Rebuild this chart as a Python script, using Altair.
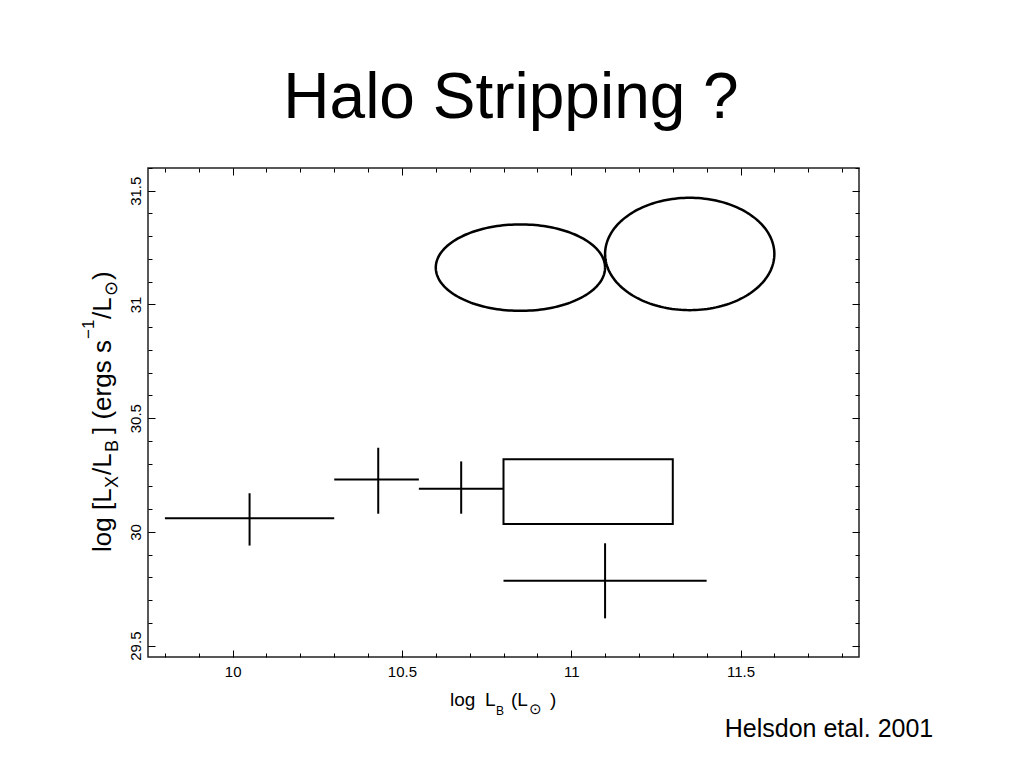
import altair as alt
import numpy as np
import pandas as pd

# ---------------- data ----------------
cross_x = [10.05, 10.43, 10.675, 11.10]
cross_x_lo = [9.80, 10.30, 10.55, 10.80]
cross_x_hi = [10.30, 10.55, 10.80, 11.40]
cross_y = [30.06, 30.23, 30.19, 29.785]
cross_y_lo = [29.94, 30.08, 30.08, 29.62]
cross_y_hi = [30.17, 30.37, 30.31, 29.95]

box_x = [10.80, 11.30]
box_y = [30.035, 30.32]

ell_id = ["A", "B"]
ell_cx = [10.85, 11.35]
ell_cy = [31.162, 31.222]
ell_rx = [0.25, 0.25]
ell_ry = [0.19, 0.247]

x_major = [10, 10.5, 11, 11.5]
x_minor = [9.8, 9.9, 10.0, 10.1, 10.2, 10.3, 10.4, 10.5, 10.6, 10.7, 10.8, 10.9,
           11.0, 11.1, 11.2, 11.3, 11.4, 11.5, 11.6, 11.7, 11.8]
y_major = [29.5, 30, 30.5, 31, 31.5]
y_minor = [29.5, 29.6, 29.7, 29.8, 29.9, 30.0, 30.1, 30.2, 30.3, 30.4, 30.5, 30.6,
           30.7, 30.8, 30.9, 31.0, 31.1, 31.2, 31.3, 31.4, 31.5, 31.6]

title_text = "Halo Stripping ?"
credit_text = "Helsdon etal. 2001"

# axis-title pieces (with sub/superscripts)
xt_text = ["log", "L", "B", "(L", "\u2299", ")"]
yt_text = ["log [L", "X", "/L", "B", "] (ergs s", "\u22121", "/L", "\u2299", ")"]

# ---------------- layout ----------------
W, H = 711, 489
FONT = "Liberation Sans"
xt_px = [302, 337, 348, 363, 381, 402]
xt_py = [538, 538, 547, 538, 546, 538]
xt_fs = [19, 19, 12, 19, 15, 19]
yt_px = [-37, -30, -37, -30, -37, -54, -37, -31, -37]
yt_py = [384, 320, 307, 284, 266, 171, 151, 128, 112]
yt_fs = [26, 18, 26, 18, 26, 17, 26, 18, 26]

crosses = pd.DataFrame({"x": cross_x, "xlo": cross_x_lo, "xhi": cross_x_hi,
                        "y": cross_y, "ylo": cross_y_lo, "yhi": cross_y_hi})
box = pd.DataFrame({"x": [box_x[0]], "x2": [box_x[1]], "y": [box_y[0]], "y2": [box_y[1]]})

t = np.linspace(0, 2 * np.pi, 181)
rows = []
for k in range(len(ell_id)):
    for i, a in enumerate(t):
        rows.append({"id": ell_id[k], "i": i,
                     "x": ell_cx[k] + ell_rx[k] * np.cos(a),
                     "y": ell_cy[k] + ell_ry[k] * np.sin(a)})
ellipses = pd.DataFrame(rows)

xs = alt.Scale(domain=[9.75, 11.85], nice=False, zero=False)
ys = alt.Scale(domain=[29.45, 31.6], nice=False, zero=False)

tick_common = dict(title=None, grid=False, domain=False, labels=False,
                   tickColor="black", tickWidth=1)

x_label_axis = alt.Axis(orient="bottom", values=x_major, format="~f", ticks=False, tickSize=0,
                        domain=False, grid=False, title=None, labelFont=FONT, labelFontSize=15,
                        labelColor="black", labelPadding=7)
y_label_axis = alt.Axis(orient="left", values=y_major, format="~f", ticks=False, tickSize=0,
                        domain=False, grid=False, title=None, labelFont=FONT, labelFontSize=15,
                        labelColor="black", labelPadding=8, labelAngle=270,
                        labelAlign="center", labelBaseline="alphabetic")

# inward ticks: bottom edge (orient top shifted down), top edge (orient bottom shifted up)
x_bot_major = alt.Axis(orient="top", offset=-H, values=x_major, tickSize=7, **tick_common)
x_bot_minor = alt.Axis(orient="top", offset=-H, values=x_minor, tickSize=4, **tick_common)
x_top_major = alt.Axis(orient="bottom", offset=-H, values=x_major, tickSize=7, **tick_common)
x_top_minor = alt.Axis(orient="bottom", offset=-H, values=x_minor, tickSize=4, **tick_common)
y_left_major = alt.Axis(orient="right", offset=-W, values=y_major, tickSize=7, **tick_common)
y_left_minor = alt.Axis(orient="right", offset=-W, values=y_minor, tickSize=4, **tick_common)
y_right_major = alt.Axis(orient="left", offset=-W, values=y_major, tickSize=7, **tick_common)
y_right_minor = alt.Axis(orient="left", offset=-W, values=y_minor, tickSize=4, **tick_common)

hrules = alt.Chart(crosses).mark_rule(color="black", strokeWidth=2).encode(
    x=alt.X("xlo:Q", scale=xs, axis=x_label_axis),
    x2="xhi:Q",
    y=alt.Y("y:Q", scale=ys, axis=y_label_axis),
)
vrules = alt.Chart(crosses).mark_rule(color="black", strokeWidth=2).encode(
    x=alt.X("x:Q", scale=xs, axis=x_bot_major),
    y=alt.Y("ylo:Q", scale=ys, axis=y_left_major),
    y2="yhi:Q",
)
rect = alt.Chart(box).mark_rect(fillOpacity=0, stroke="black", strokeWidth=2).encode(
    x=alt.X("x:Q", scale=xs, axis=x_bot_minor),
    x2="x2:Q",
    y=alt.Y("y:Q", scale=ys, axis=y_left_minor),
    y2="y2:Q",
)
ell = alt.Chart(ellipses).mark_line(color="black", strokeWidth=2.5).encode(
    x=alt.X("x:Q", scale=xs, axis=x_top_major),
    y=alt.Y("y:Q", scale=ys, axis=y_right_major),
    detail="id:N",
    order="i:Q",
)
dummy = alt.Chart(crosses).mark_point(opacity=0).encode(
    x=alt.X("x:Q", scale=xs, axis=x_top_minor),
    y=alt.Y("y:Q", scale=ys, axis=y_right_minor),
)

xt_df = pd.DataFrame({"t": xt_text, "px": xt_px, "py": xt_py, "fs": xt_fs})
yt_df = pd.DataFrame({"t": yt_text, "px": yt_px, "py": yt_py, "fs": yt_fs})

xtitle = alt.Chart(xt_df).mark_text(font=FONT, align="left", baseline="alphabetic",
                                    color="black").encode(
    x=alt.X("px:Q", scale=None, axis=None),
    y=alt.Y("py:Q", scale=None, axis=None),
    text="t:N",
    size=alt.Size("fs:Q", scale=None, legend=None),
)
ytitle = alt.Chart(yt_df).mark_text(font=FONT, align="left", baseline="alphabetic",
                                    angle=270, color="black").encode(
    x=alt.X("px:Q", scale=None, axis=None),
    y=alt.Y("py:Q", scale=None, axis=None),
    text="t:N",
    size=alt.Size("fs:Q", scale=None, legend=None),
)

title = alt.Chart(pd.DataFrame({"t": [title_text]})).mark_text(
    font=FONT, fontSize=64, align="center", baseline="alphabetic", color="black"
).encode(text="t:N", x=alt.value(363), y=alt.value(-50))

credit = alt.Chart(pd.DataFrame({"t": [credit_text]})).mark_text(
    font=FONT, fontSize=25, align="center", baseline="alphabetic", color="black"
).encode(text="t:N", x=alt.value(681), y=alt.value(569))

chart = (
    alt.layer(hrules, vrules, rect, ell, dummy, xtitle, ytitle, title, credit)
    .resolve_axis(x="independent", y="independent")
    .properties(
        width=W, height=H,
        padding={"left": 140, "top": 160, "right": 150, "bottom": 100},
        autosize=alt.AutoSizeParams(type="none"),
        background="white",
    )
    .configure_view(stroke="#222", strokeWidth=1.5)
    .configure_axis(labelFontSize=15, labelFont=FONT, labelColor="black")
)

chart.save("out.html", embed_options={"renderer": "svg", "actions": False})
